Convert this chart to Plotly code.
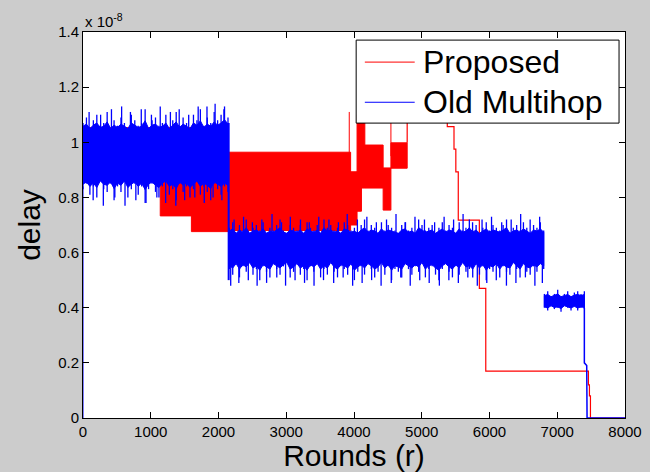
import numpy as np
import plotly.graph_objects as go

# ---------------- data (delay in units of 1e-8) ----------------
# Old Multihop: noisy band -> dense core + per-sample excursions (upper / lower values)
A_start, A_end = 0, 2140
A_core = (0.86, 1.05)
A_hi = [1.07,1.09,1.05,1.08,1.10,1.06,1.07,1.11,1.05,1.08,1.06,1.09,1.07,1.05,1.10,1.08,1.06,1.07,1.12,1.05,1.08,1.09,
        1.06,1.07,1.10,1.05,1.08,1.11,1.06,1.09,1.07,1.05,1.10,1.08,1.12,1.06,1.09,1.07,1.11,1.08,1.10,1.13,1.09]
A_lo = [0.83,0.85,0.81,0.84,0.80,0.86,0.83,0.82,0.85,0.79,0.84,0.82,0.86,0.80,0.83,0.85,0.81,0.84,0.78,0.83,0.85,0.82,
        0.80,0.84,0.86,0.81,0.83,0.79,0.85,0.82,0.84,0.80,0.83,0.86,0.81,0.84,0.82,0.79,0.85,0.83,0.81,0.84,0.82]
A_up_x = [90, 260, 420, 570, 700, 860, 1010, 1140, 1290, 1420, 1560, 1700, 1830, 1950, 2080]
A_up_y = [1.11, 1.10, 1.12, 1.13, 1.11, 1.12, 1.10, 1.13, 1.11, 1.12, 1.10, 1.13, 1.13, 1.14, 1.12]
A_dn_x = [150, 300, 470, 620, 780, 930, 1090, 1220, 1370, 1500, 1650, 1790, 1920, 2050]
A_dn_y = [0.79, 0.77, 0.80, 0.77, 0.79, 0.78, 0.80, 0.78, 0.77, 0.79, 0.80, 0.78, 0.80, 0.79]

B_start, B_end = 2160, 6800
B_core = (0.56, 0.67)
B_hi = [0.69,0.71,0.67,0.70,0.68,0.72,0.67,0.69,0.70,0.68, 0.71,0.67,0.69,0.68,0.70,0.72,0.68,0.67,0.70,0.69,
        0.68,0.70,0.67,0.71,0.69,0.68,0.70,0.67,0.72,0.69, 0.70,0.68,0.69,0.67,0.71,0.70,0.68,0.69,0.67,0.70,
        0.72,0.68,0.70,0.69,0.67,0.71,0.68,0.70,0.69,0.68, 0.67,0.70,0.71,0.68,0.69,0.67,0.72,0.70,0.68,0.69,
        0.70,0.67,0.69,0.71,0.68,0.70,0.69,0.67,0.71,0.68, 0.69,0.72,0.68,0.70,0.67,0.69,0.71,0.68,0.70,0.69,
        0.68,0.70,0.72,0.67,0.69,0.70,0.68,0.71,0.69,0.67, 0.70,0.69,0.71,0.68]
B_lo = [0.54,0.52,0.56,0.51,0.55,0.53,0.57,0.52,0.54,0.50, 0.55,0.53,0.51,0.56,0.54,0.52,0.55,0.57,0.51,0.53,
        0.56,0.52,0.54,0.50,0.55,0.53,0.56,0.51,0.54,0.52, 0.57,0.53,0.51,0.55,0.54,0.52,0.56,0.50,0.53,0.55,
        0.52,0.56,0.54,0.51,0.53,0.57,0.52,0.55,0.50,0.54, 0.53,0.51,0.56,0.54,0.52,0.55,0.53,0.57,0.51,0.54,
        0.55,0.52,0.50,0.54,0.56,0.53,0.51,0.55,0.52,0.57, 0.53,0.54,0.51,0.56,0.52,0.55,0.50,0.54,0.53,0.56,
        0.51,0.55,0.53,0.52,0.57,0.54,0.51,0.56,0.53,0.52, 0.55,0.53,0.56,0.54]
B_up_x = [2230, 2370, 2500, 2640, 2790, 2930, 3060, 3210, 3340, 3480, 3630, 3770, 3900, 4050, 4190, 4330, 4480,
          4620, 4760, 4900, 5040, 5190, 5330, 5470, 5610, 5750, 5890, 6030, 6180, 6320, 6460, 6600, 6740]
B_up_y = [0.72,0.73,0.71,0.72,0.74,0.71,0.73,0.72,0.71,0.73,0.72,0.71,0.74,0.72,0.73,0.71,0.72,
          0.74,0.71,0.73,0.72,0.71,0.73,0.72,0.74,0.71,0.72,0.73,0.71,0.72,0.74,0.72,0.73]
B_dn_x = [2180, 2300, 2440, 2570, 2710, 2860, 2990, 3130, 3270, 3410, 3550, 3700, 3840, 3980, 4120, 4260, 4400,
          4550, 4690, 4830, 4970, 5110, 5260, 5400, 5540, 5680, 5820, 5960, 6100, 6250, 6390, 6530, 6670, 6780]
B_dn_y = [0.48,0.49,0.50,0.48,0.49,0.51,0.48,0.50,0.49,0.48,0.50,0.49,0.51,0.48,0.49,0.50,0.48,
          0.49,0.51,0.48,0.50,0.49,0.48,0.50,0.49,0.51,0.48,0.49,0.50,0.48,0.49,0.51,0.48,0.49]

C_start, C_end = 6810, 7400
C_core = (0.405, 0.44)
C_hi = [0.45,0.46,0.44,0.45,0.465,0.44,0.45,0.46,0.44,0.455,0.46,0.45,0.46]
C_lo = [0.40,0.39,0.41,0.395,0.40,0.385,0.41,0.40,0.39,0.405,0.39,0.40,0.395]

# step parts of the Old Multihop curve
blue_head_x = [0, 0]
blue_head_y = [0.0, 0.84]
blue_drop_x = [2150, 2150]
blue_drop_y = [1.07, 0.50]
blue_tail_x = [7400, 7400, 7435, 7440, 8000]
blue_tail_y = [0.40, 0.20, 0.19, 0.0, 0.0]

# Proposed: rapidly alternating regions (x0, x1, low, high)
red_x0 = [0, 1140, 1600, 2140, 3950, 4045, 4110, 4160, 4430, 4545]
red_x1 = [1140, 1600, 2140, 3950, 4045, 4110, 4160, 4430, 4545, 4785]
red_lo = [0.96, 0.733, 0.676, 0.68, 0.70, 0.75, 0.834, 0.834, 0.754, 0.906]
red_hi = [1.053, 1.053, 1.053, 0.964, 0.893, 1.10, 1.10, 0.99, 0.907, 0.998]
red_spike_x = [3930, 4545]
red_spike_lo = [0.90, 0.95]
red_spike_hi = [1.11, 1.10]
# Proposed: step tail (line shape hv)
red_tail_x = [4785, 4785, 5377, 5476, 5503, 5539, 5850, 5945, 7460, 7475, 7490, 8000]
red_tail_y = [0.998, 1.20, 1.057, 0.975, 0.893, 0.718, 0.47, 0.17, 0.12, 0.08, 0.0, 0.0]

x_ticks = [0, 1000, 2000, 3000, 4000, 5000, 6000, 7000, 8000]
y_ticks = [0, 0.2, 0.4, 0.6, 0.8, 1.0, 1.2, 1.4]
y_tick_text = ["0", "0.2", "0.4", "0.6", "0.8", "1", "1.2", "1.4"]
legend_names = ["Proposed", "Old Multihop"]

RED = "#ff0000"
BLUE = "#0000ff"
FONT = "Liberation Sans, Arial, Helvetica, sans-serif"
EDGE_SOFT = 0.4   # how far the dense core edge follows the excursions

fig = go.Figure()

# ---- Proposed (red) ----
rx, ry = [], []
for x0, x1, lo, hi in zip(red_x0, red_x1, red_lo, red_hi):
    rx += [x0, x1, x1, x0, x0, None]
    ry += [lo, lo, hi, hi, lo, None]
fig.add_trace(go.Scatter(x=rx, y=ry, mode="lines", fill="toself", fillcolor=RED,
                         line=dict(color=RED, width=1), showlegend=False, hoverinfo="skip"))
sx, sy = [], []
for x, lo, hi in zip(red_spike_x, red_spike_lo, red_spike_hi):
    sx += [x, x, None]
    sy += [lo, hi, None]
fig.add_trace(go.Scatter(x=sx, y=sy, mode="lines", line=dict(color=RED, width=1),
                         showlegend=False, hoverinfo="skip"))
fig.add_trace(go.Scatter(x=red_tail_x, y=red_tail_y, mode="lines",
                         line=dict(color=RED, width=1.2, shape="hv"),
                         name=legend_names[0], showlegend=False))

# ---- Old Multihop (blue) ----
segments = [(A_start, A_end, A_core, A_hi, A_lo, A_up_x, A_up_y, A_dn_x, A_dn_y),
            (B_start, B_end, B_core, B_hi, B_lo, B_up_x, B_up_y, B_dn_x, B_dn_y),
            (C_start, C_end, C_core, C_hi, C_lo, [], [], [], [])]
cx, cy = [], []
comb_x, comb_y = [], []
for s, e, core, hi, lo, ux, uy, dx, dy in segments:
    grid = [float(g) for g in np.linspace(s, e, len(hi))]
    top = [core[1] + EDGE_SOFT * (h - core[1]) for h in hi]
    bot = [core[0] + EDGE_SOFT * (l - core[0]) for l in lo]
    cx += grid + grid[::-1] + [grid[0], None]
    cy += top + bot[::-1] + [top[0], None]
    for x, h, l in zip(grid, hi, lo):
        comb_x += [x, x, None]
        comb_y += [l, h, None]
    mid = (core[0] + core[1]) / 2
    for x, t in list(zip(ux, uy)) + list(zip(dx, dy)):
        comb_x += [x, x, None]
        comb_y += [mid, t, None]

fig.add_trace(go.Scatter(x=cx, y=cy, mode="lines", fill="toself", fillcolor=BLUE,
                         line=dict(color=BLUE, width=1), showlegend=False, hoverinfo="skip"))
fig.add_trace(go.Scatter(x=comb_x, y=comb_y, mode="lines", line=dict(color=BLUE, width=1.3),
                         showlegend=False, hoverinfo="skip"))
fig.add_trace(go.Scatter(x=blue_drop_x, y=blue_drop_y, mode="lines", line=dict(color=BLUE, width=2),
                         showlegend=False, hoverinfo="skip"))
fig.add_trace(go.Scatter(x=blue_head_x, y=blue_head_y, mode="lines", line=dict(color=BLUE, width=1),
                         showlegend=False, hoverinfo="skip"))
fig.add_trace(go.Scatter(x=blue_tail_x, y=blue_tail_y, mode="lines", line=dict(color=BLUE, width=1.5),
                         name=legend_names[1], showlegend=False))

axis_common = dict(showline=True, linecolor="black", linewidth=1, mirror="allticks",
                   ticks="inside", ticklen=6, tickcolor="black", showgrid=False, zeroline=False,
                   automargin=False,
                   tickfont=dict(family=FONT, size=15, color="black"))

# ---- legend box (MATLAB style), paper coordinates ----
lg_x0, lg_x1, lg_y0, lg_y1 = 0.504, 0.989, 0.764, 0.979
row_y = [0.922, 0.818]
line_x0, line_x1, text_x = 0.520, 0.612, 0.624
shapes = [dict(type="rect", xref="paper", yref="paper", x0=lg_x0, x1=lg_x1, y0=lg_y0, y1=lg_y1,
               fillcolor="white", line=dict(color="black", width=1), layer="above")]
annotations = [dict(xref="paper", yref="paper", x=0, y=1, xanchor="left", yanchor="bottom",
                    text="x 10<sup>-8</sup>", showarrow=False,
                    font=dict(family=FONT, size=15, color="black"))]
for name, col, yy in zip(legend_names, [RED, BLUE], row_y):
    shapes.append(dict(type="line", xref="paper", yref="paper", x0=line_x0, x1=line_x1, y0=yy, y1=yy,
                       line=dict(color=col, width=1), layer="above"))
    annotations.append(dict(xref="paper", yref="paper", x=text_x, y=yy, xanchor="left", yanchor="middle",
                            text=name, showarrow=False, font=dict(family=FONT, size=32, color="black")))

fig.update_layout(
    width=650, height=472,
    margin=dict(l=83, r=25, t=32, b=54),
    paper_bgcolor="#cccccc", plot_bgcolor="white",
    font=dict(family=FONT, color="black"),
    xaxis=dict(range=[0, 8000], tickvals=x_ticks,
               title=dict(text="Rounds (r)", font=dict(family=FONT, size=30), standoff=2),
               **axis_common),
    yaxis=dict(range=[0, 1.4], tickvals=y_ticks, ticktext=y_tick_text,
               title=dict(text="delay", font=dict(family=FONT, size=30), standoff=8),
               **axis_common),
    shapes=shapes,
    annotations=annotations,
    showlegend=False,
)

fig.write_html("out.html")
